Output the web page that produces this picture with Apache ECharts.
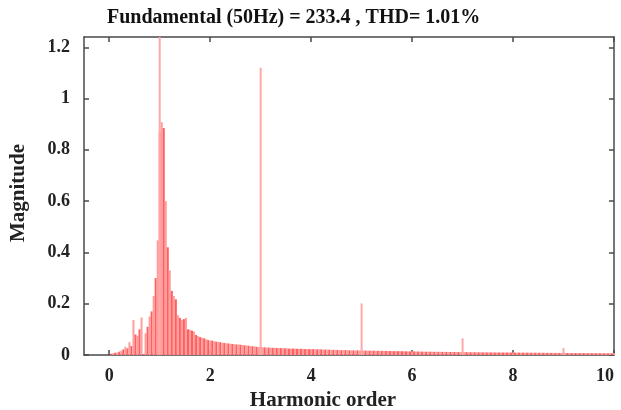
<!DOCTYPE html>
<html>
<head>
<meta charset="utf-8">
<script src="https://cdn.jsdelivr.net/npm/echarts@6/dist/echarts.min.js"></script>
<style>
  html, body { margin: 0; padding: 0; background: #fff; }
  #chart { width: 621px; height: 410px; }
</style>
</head>
<body>
<div id="chart"></div>
<script>
//--------------------- Data ---------------------------//
const binStep = 0.04; // harmonic order per FFT bin
// spectrum magnitude, one row per unit of harmonic order (25 bins each)
const spectrum0 = [0.005, 0.007, 0.009, 0.010, 0.013, 0.017, 0.022, 0.032, 0.026, 0.050,
  0.035, 0.136, 0.080, 0.075, 0.100, 0.146, 0.004, 0.085, 0.110, 0.150,
  0.170, 0.230, 0.300, 0.447, 0.870];
const spectrum1 = [0.908, 0.885, 0.600, 0.420, 0.330, 0.250, 0.230, 0.217, 0.155, 0.145,
  0.137, 0.140, 0.145, 0.100, 0.098, 0.095, 0.092, 0.078, 0.074, 0.070,
  0.067, 0.065, 0.062, 0.058, 0.056];
const spectrum2 = [0.056, 0.054, 0.052, 0.051, 0.050, 0.048, 0.047, 0.046, 0.045, 0.044,
  0.043, 0.042, 0.041, 0.041, 0.040, 0.039, 0.038, 0.037, 0.036, 0.035,
  0.034, 0.033, 0.032, 0.031, 0.031];
const spectrum3 = [0.030, 0.030, 0.029, 0.029, 0.028, 0.028, 0.028, 0.027, 0.027, 0.027,
  0.026, 0.026, 0.026, 0.025, 0.025, 0.025, 0.025, 0.024, 0.024, 0.024,
  0.024, 0.023, 0.023, 0.023, 0.023];
const spectrum4 = [0.023, 0.022, 0.022, 0.022, 0.022, 0.021, 0.021, 0.021, 0.021, 0.020,
  0.020, 0.020, 0.020, 0.019, 0.019, 0.019, 0.019, 0.019, 0.018, 0.018,
  0.018, 0.018, 0.018, 0.0175, 0.0175];
const spectrum5 = [0.0175, 0.017, 0.017, 0.017, 0.017, 0.0165, 0.0165, 0.0165, 0.016, 0.016,
  0.016, 0.016, 0.0155, 0.0155, 0.0155, 0.015, 0.015, 0.015, 0.015, 0.0145,
  0.0145, 0.0145, 0.014, 0.014, 0.014];
const spectrum6 = [0.014, 0.0138, 0.0136, 0.0134, 0.0132, 0.013, 0.013, 0.0128, 0.0128, 0.0126,
  0.0126, 0.0124, 0.0124, 0.0122, 0.0122, 0.012, 0.012, 0.0119, 0.0118, 0.0117,
  0.0116, 0.0115, 0.0115, 0.0114, 0.0113];
const spectrum7 = [0.0112, 0.0111, 0.011, 0.011, 0.0109, 0.0108, 0.0107, 0.0106, 0.0105, 0.0104,
  0.0104, 0.0103, 0.0102, 0.0101, 0.01, 0.01, 0.0099, 0.0099, 0.0098, 0.0097,
  0.0097, 0.0096, 0.0096, 0.0095, 0.0095];
const spectrum8 = [0.0094, 0.0094, 0.0093, 0.0092, 0.0092, 0.0091, 0.0091, 0.009, 0.0089, 0.0089,
  0.0088, 0.0088, 0.0087, 0.0087, 0.0086, 0.0085, 0.0085, 0.0084, 0.0083, 0.0083,
  0.0082, 0.0082, 0.0081, 0.0081, 0.008];
const spectrum9 = [0.008, 0.0079, 0.0079, 0.0078, 0.0077, 0.0077, 0.0076, 0.0075, 0.0075, 0.0074,
  0.0074, 0.0073, 0.0072, 0.0072, 0.0071, 0.0071, 0.007, 0.0069, 0.0069, 0.0068,
  0.0068, 0.0067, 0.0067, 0.0066, 0.0066];

// harmonic lines of the signal
const harmonicOrders = [1, 3, 5, 7, 9];
const harmonicMags = [1.25, 1.12, 0.201, 0.065, 0.027];

const xTicks = [0, 2, 4, 6, 8, 10];
const yTicks = [0, 0.2, 0.4, 0.6, 0.8, 1, 1.2];
const titleText = 'Fundamental (50Hz) = 233.4 , THD= 1.01%';

//--------------------- Chart ---------------------------//
const spectrum = [].concat(spectrum0, spectrum1, spectrum2, spectrum3, spectrum4,
  spectrum5, spectrum6, spectrum7, spectrum8, spectrum9);
const spectrumData = spectrum.map((v, i) => [(i + 1) * binStep, v]);
const harmonicData = harmonicOrders.map((h, i) => [h, harmonicMags[i]]);

const font = '"Liberation Serif", "Times New Roman", serif';
const axisColor = '#4a4a4a';
const labelStyle = { fontFamily: font, fontWeight: 'bold', fontSize: 18, color: '#222' };
const nameStyle = { fontFamily: font, fontWeight: 'bold', fontSize: 21, color: '#222' };

// boxed axes with inward ticks on all four sides
function boxAxis(extra, ticks) {
  return Object.assign({
    type: 'value',
    axisLine: { show: true, onZero: false, lineStyle: { color: axisColor, width: 1.5 } },
    axisTick: { show: true, inside: true, length: 5, customValues: ticks, lineStyle: { color: axisColor, width: 1.5 } },
    axisLabel: { show: false },
    splitLine: { show: false }
  }, extra);
}

const chart = echarts.init(document.getElementById('chart'));
chart.setOption({
  animation: false,
  title: {
    text: titleText,
    left: 102,
    top: 3,
    textStyle: { fontFamily: font, fontWeight: 'bold', fontSize: 20, color: '#111' }
  },
  grid: { left: 84, right: 7, top: 37, bottom: 55, outerBoundsMode: 'none' },
  xAxis: [
    boxAxis({
      position: 'bottom', min: -0.5, max: 10,
      name: 'Harmonic order', nameLocation: 'middle', nameGap: 32,
      nameTextStyle: Object.assign({ padding: [0, 52, 0, 0] }, nameStyle),
      axisLabel: Object.assign({ show: true, margin: 12, customValues: xTicks, alignMaxLabel: 'right' }, labelStyle)
    }, xTicks),
    boxAxis({ position: 'top', min: -0.5, max: 10 }, xTicks)
  ],
  yAxis: [
    boxAxis({
      position: 'left', min: 0, max: 1.24,
      name: 'Magnitude', nameLocation: 'middle', nameGap: 55,
      nameTextStyle: Object.assign({ padding: [0, 0, 0, 6] }, nameStyle),
      axisLabel: Object.assign({ show: true, margin: 14, customValues: yTicks, padding: [0, 0, 5, 0] }, labelStyle)
    }, yTicks),
    boxAxis({ position: 'right', min: 0, max: 1.24 }, yTicks)
  ],
  series: [
    {
      name: 'spectrum',
      type: 'bar',
      data: spectrumData,
      barWidth: 2,
      barGap: '-100%',
      clip: true,
      itemStyle: {
        // neighbouring bins blend into light/dark stripes
        color: (p) => (p.dataIndex % 2 ? '#ff9c9c' : '#ff5f5f')
      }
    },
    {
      name: 'harmonics',
      type: 'bar',
      data: harmonicData,
      barWidth: 2,
      barGap: '-100%',
      clip: true,
      itemStyle: { color: '#ffa8a8' }
    }
  ]
});
</script>
</body>
</html>
